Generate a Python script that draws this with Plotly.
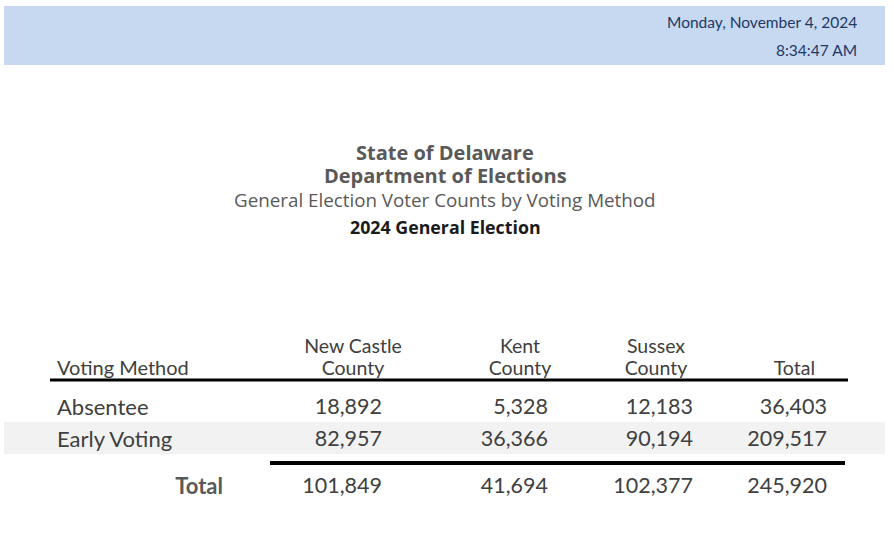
import plotly.graph_objects as go

# --- data ---
report_date = "Monday, November 4, 2024"
report_time = "8:34:47 AM"
titles = ["State of Delaware", "Department of Elections",
          "General Election Voter Counts by Voting Method", "2024 General Election"]

col_top = ["New Castle", "Kent", "Sussex"]
col_bottom = ["County", "County", "County"]
total_label = "Total"
method_label = "Voting Method"
methods = ["Absentee", "Early Voting"]
new_castle = [18892, 82957]
kent = [5328, 36366]
sussex = [12183, 90194]
totals_col = [36403, 209517]
grand = [101849, 41694, 102377, 245920]

# --- layout constants (pixel space) ---
W, H = 894, 534
col_right = [382, 548, 693, 827]
col_head = [353, 520, 656, 815]
row_y = [409, 441]
total_y = 488
TABLE_FONT = "Lato, Calibri, sans-serif"
TITLE_FONT = "Open Sans, sans-serif"
TXT = "#404040"

fig = go.Figure()

def text_trace(x, y, text, pos, size, color=TXT):
    fig.add_trace(go.Scatter(
        x=x, y=y, mode="text", text=text, textposition=pos,
        textfont=dict(family=TABLE_FONT, size=size, color=color), hoverinfo="skip"))

# header labels
text_trace([57], [370], [method_label], "middle right", 20)
text_trace(col_head[:3], [348] * 3, col_top, "middle center", 19.5)
text_trace(col_head[:3], [370] * 3, col_bottom, "middle center", 19.5)
text_trace([col_head[3]], [370], [total_label], "middle left", 19.5)

# row labels
text_trace([57] * len(methods), row_y, methods, "middle right", 22)

# values
for xr, vals in zip(col_right, [new_castle, kent, sussex, totals_col]):
    text_trace([xr] * len(vals), row_y, [f"{v:,}" for v in vals], "middle left", 21.5)

# total row
text_trace([223], [total_y], [f"<b>{total_label}</b>"], "middle left", 22, "#595959")
text_trace(col_right, [total_y] * 4, [f"{v:,}" for v in grand], "middle left", 21.5)

shapes = [
    dict(type="rect", x0=4, x1=885, y0=6, y1=65, fillcolor="#C6D9F1", line_width=0, layer="below"),
    dict(type="rect", x0=4, x1=885, y0=422, y1=454, fillcolor="#F2F2F2", line_width=0, layer="below"),
    dict(type="line", x0=50, x1=848, y0=380, y1=380, line=dict(color="black", width=3)),
    dict(type="line", x0=270, x1=845, y0=463, y1=463, line=dict(color="black", width=4)),
]

annotations = [
    dict(x=859, y=22, text=report_date, xanchor="right", yanchor="middle", showarrow=False,
         font=dict(family=TABLE_FONT, size=15.5, color="#1F3864")),
    dict(x=859, y=50, text=report_time, xanchor="right", yanchor="middle", showarrow=False,
         font=dict(family=TABLE_FONT, size=15.5, color="#1F3864")),
    dict(x=445, y=152, text=f"<b>{titles[0]}</b>", showarrow=False, yanchor="middle",
         font=dict(family=TITLE_FONT, size=20, color="#595959")),
    dict(x=445, y=175, text=f"<b>{titles[1]}</b>", showarrow=False, yanchor="middle",
         font=dict(family=TITLE_FONT, size=20, color="#595959")),
    dict(x=445, y=200, text=titles[2], showarrow=False, yanchor="middle",
         font=dict(family=TITLE_FONT, size=18.8, color="#595959")),
    dict(x=445, y=227, text=f"<b>{titles[3]}</b>", showarrow=False, yanchor="middle",
         font=dict(family=TITLE_FONT, size=17.8, color="#1a1a1a")),
]

fig.update_layout(
    width=W, height=H, margin=dict(l=0, r=0, t=0, b=0),
    paper_bgcolor="white", plot_bgcolor="white", showlegend=False,
    shapes=shapes, annotations=annotations,
    xaxis=dict(range=[0, W], visible=False, fixedrange=True),
    yaxis=dict(range=[H, 0], visible=False, fixedrange=True),
)

# drop the default page margin so the figure sits at the window's corner
fig.write_html("out.html", config={"displayModeBar": False},
               post_script="document.body.style.margin='0';")
